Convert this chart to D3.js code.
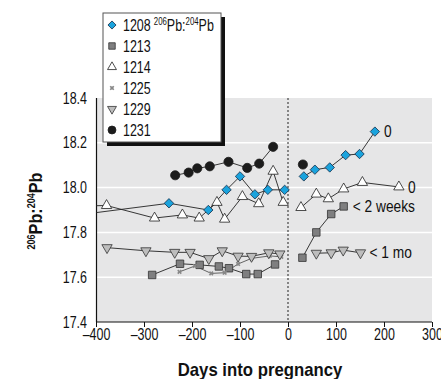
<!DOCTYPE html>
<html>
<head>
<meta charset="utf-8">
<script src="https://cdn.jsdelivr.net/npm/d3@7"></script>
<style>
  body { margin: 0; background: #fff; }
  svg text { font-family: "Liberation Sans", Arial, sans-serif; }
</style>
</head>
<body>
<div id="chart"></div>
<script>
// values
const xTicks = [-400, -300, -200, -100, 0, 100, 200, 300];
const yTicks = [17.4, 17.6, 17.8, 18.0, 18.2, 18.4];

const days1208 = [-430, -248, -166, -128, -100, -69, -42, -7, 33, 56, 87, 120, 149, 181];
const vals1208 = [17.88, 17.93, 17.90, 17.99, 18.05, 17.97, 17.99, 17.99, 18.05, 18.08, 18.09, 18.145, 18.15, 18.25];

const days1213 = [-283, -225, -184, -144, -123, -87, -63, -27, 30, 59, 90, 116];
const vals1213 = [17.61, 17.66, 17.655, 17.648, 17.64, 17.614, 17.614, 17.657, 17.687, 17.80, 17.882, 17.916];

const days1214 = [-430, -378, -278, -220, -185, -148, -132, -95, -61, -31, -10, 27, 59, 84, 116, 155, 231];
const vals1214 = [17.918, 17.92, 17.864, 17.878, 17.864, 17.934, 17.859, 17.96, 17.928, 18.073, 17.934, 17.911, 17.971, 17.95, 17.994, 18.023, 18.003];

const days1225 = [-226, -194, -160, -132, -104, -76, -38, -14];
const vals1225 = [17.624, 17.65, 17.617, 17.62, 17.659, 17.684, 17.695, 17.691];

const days1229 = [-377, -296, -236, -204, -165, -137, -104, -76, -40, -17, 59, 90, 115, 151];
const vals1229 = [17.732, 17.718, 17.711, 17.711, 17.683, 17.718, 17.694, 17.693, 17.709, 17.704, 17.707, 17.709, 17.721, 17.709];

const days1231 = [-235, -207, -189, -163, -124, -85, -60, -31, 31];
const vals1231 = [18.055, 18.067, 18.086, 18.095, 18.115, 18.088, 18.107, 18.182, 18.103];

const ids = ["1208", "1213", "1214", "1225", "1229", "1231"];
const endLabels = {"1208": "0", "1214": "0", "1213": "< 2 weeks", "1229": "< 1 mo"};

const width = 441, height = 379;
const margin = {top: 98, right: 9, bottom: 57, left: 96};
const w = width - margin.left - margin.right;
const h = height - margin.top - margin.bottom;
const SX = 0.78;   // horizontal squeeze, the original uses a condensed face
const FS = "16px";

const svg = d3.select("#chart").append("svg")
    .attr("width", width)
    .attr("height", height);

const x = d3.scaleLinear().domain([-400, 300]).range([0, w]);
const y = d3.scaleLinear().domain([17.4, 18.4]).range([h, 0]);

const g = svg.append("g").attr("transform", `translate(${margin.left},${margin.top})`);

svg.append("defs").append("clipPath").attr("id", "plotclip")
  .append("rect").attr("width", w).attr("height", h);

g.append("rect").attr("width", w).attr("height", h).attr("fill", "#e6e6e7");

// white grid lines
g.selectAll(".grid").data(yTicks.slice(1, -1)).enter().append("line")
    .attr("x1", 0).attr("x2", w)
    .attr("y1", d => y(d)).attr("y2", d => y(d))
    .style("stroke", "#fff").style("stroke-width", 1.5);

// pregnancy line
g.append("line")
    .attr("x1", x(0)).attr("x2", x(0)).attr("y1", 0).attr("y2", h)
    .style("stroke", "#222").style("stroke-width", 1)
    .style("stroke-dasharray", "2,2");

const xAxis = g.append("g").attr("transform", `translate(0,${h})`)
    .call(d3.axisBottom(x).tickValues(xTicks).tickSize(5)
      .tickFormat(d => d < 0 ? "\u2013" + Math.abs(d) : d));
xAxis.select(".domain").attr("d", `M0.5,0H${w}`).style("stroke", "#111").style("stroke-width", 1.2);
xAxis.selectAll(".tick line").style("stroke", "#111");
xAxis.selectAll(".tick text").attr("y", 7).attr("transform", `scale(${SX},1)`)
    .style("font-size", FS).style("fill", "#111");

const yAxis = g.append("g")
    .call(d3.axisLeft(y).tickValues(yTicks).tickSize(0).tickPadding(9)
      .tickFormat(d3.format(".1f")));
yAxis.select(".domain").attr("d", `M0.5,0V${h}`).style("stroke", "#111").style("stroke-width", 1.2);
yAxis.selectAll(".tick text").attr("x", -9 / SX).attr("transform", `scale(${SX},1)`)
    .style("font-size", FS).style("fill", "#111");

// symbol styles per series
const symStyle = {
  "1208": {type: d3.symbolSquare, size: 44, rotate: 45, fill: "#1aa3dd", stroke: "#1a3550"},
  "1213": {type: d3.symbolSquare, size: 56, rotate: 0, fill: "#7f7f80", stroke: "#333"},
  "1214": {type: d3.symbolTriangle, size: 46, rotate: 0, fill: "#fff", stroke: "#222"},
  "1225": {type: d3.symbolCross, size: 14, rotate: 45, fill: "#888", stroke: "none"},
  "1229": {type: d3.symbolTriangle, size: 46, rotate: 180, fill: "#bdbdbd", stroke: "#333"},
  "1231": {type: d3.symbolCircle, size: 66, rotate: 0, fill: "#1c1c1c", stroke: "#1c1c1c"}
};

const seriesData = {
  "1208": d3.zip(days1208, vals1208),
  "1213": d3.zip(days1213, vals1213),
  "1214": d3.zip(days1214, vals1214),
  "1225": d3.zip(days1225, vals1225),
  "1229": d3.zip(days1229, vals1229),
  "1231": d3.zip(days1231, vals1231)
};

const line = d3.line().x(d => x(d[0])).y(d => y(d[1]));
const plot = g.append("g").attr("clip-path", "url(#plotclip)");

// lines first (split at day 0)
ids.forEach(id => {
  const pts = seriesData[id];
  const parts = [pts.filter(d => d[0] < 0), pts.filter(d => d[0] >= 0)];
  parts.forEach(p => {
    if (p.length < 2) return;
    plot.append("path").datum(p).attr("d", line)
      .attr("fill", "none")
      .style("stroke", id == "1225" ? "#555" : "#222")
      .style("stroke-width", 0.9);
  });
});

function drawSymbol(sel, id, scale) {
  const s = symStyle[id];
  sel.attr("d", d3.symbol().type(s.type).size(s.size * (scale || 1))())
    .attr("fill", s.fill)
    .attr("stroke", s.stroke)
    .attr("stroke-width", 0.8);
}

ids.forEach(id => {
  const s = symStyle[id];
  plot.selectAll(null).data(seriesData[id].filter(d => d[0] > -400)).enter().append("path")
    .attr("transform", d => `translate(${x(d[0])},${y(d[1])}) rotate(${s.rotate})`)
    .call(drawSymbol, id);
});

// end labels
Object.keys(endLabels).forEach(id => {
  const last = seriesData[id][seriesData[id].length - 1];
  g.append("text")
    .attr("transform", `translate(${x(last[0]) + 9},${y(last[1])}) scale(0.86,1)`)
    .attr("dy", "0.35em")
    .style("font-size", FS).style("fill", "#111")
    .text(endLabels[id]);
});

// axis titles
svg.append("text")
    .attr("transform", `translate(${margin.left + w / 2 - 4},376) scale(0.93,1)`)
    .attr("text-anchor", "middle")
    .style("font-size", "18px").style("font-weight", "bold").style("fill", "#111")
    .text("Days into pregnancy");

const yt = svg.append("text")
    .attr("transform", `translate(42,${margin.top + h / 2 + 1}) rotate(-90) scale(0.9,1)`)
    .attr("text-anchor", "middle")
    .style("font-size", "18px").style("font-weight", "bold").style("fill", "#111");
yt.append("tspan").attr("font-size", "10px").attr("dy", "-7").text("206");
yt.append("tspan").attr("dy", "7").text("Pb:");
yt.append("tspan").attr("font-size", "10px").attr("dy", "-7").text("204");
yt.append("tspan").attr("dy", "7").text("Pb");

// legend box with drop shadow
const lg = svg.append("g").attr("transform", "translate(103,13)");
const lw = 118, lh = 129;
lg.append("rect").attr("x", 4).attr("y", 4).attr("width", lw).attr("height", lh).attr("fill", "#111");
lg.append("rect").attr("width", lw).attr("height", lh)
    .attr("fill", "#fff").attr("stroke", "#555").attr("stroke-width", 1);

ids.forEach((id, i) => {
  const s = symStyle[id];
  const row = lg.append("g").attr("transform", `translate(0,${12 + i * 21})`);
  row.append("path")
    .attr("transform", `translate(9,0) rotate(${s.rotate})`)
    .call(drawSymbol, id, id == "1225" ? 1 : 0.75);
  const t = row.append("text").attr("transform", `translate(20,0) scale(${SX},1)`).attr("dy", "0.36em")
    .style("font-size", FS).style("fill", "#111").text(id);
  if (id == "1208") {
    t.append("tspan").attr("font-size", "10px").attr("dx", "4").attr("dy", "-6").text("206");
    t.append("tspan").attr("dy", "6").text("Pb:");
    t.append("tspan").attr("font-size", "10px").attr("dy", "-6").text("204");
    t.append("tspan").attr("dy", "6").text("Pb");
  }
});
</script>
</body>
</html>
